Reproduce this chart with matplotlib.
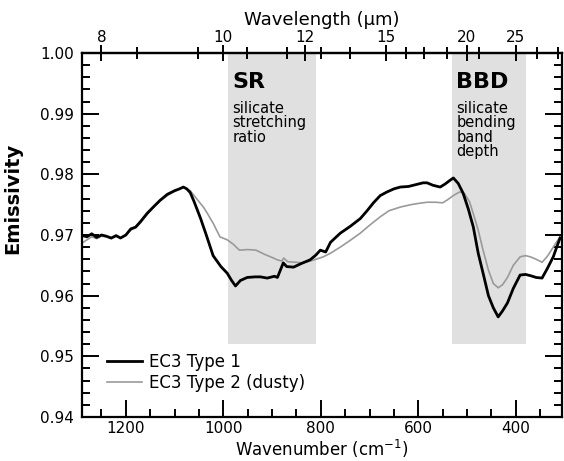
import numpy as np
import matplotlib.pyplot as plt
from matplotlib.ticker import MultipleLocator, FixedLocator

plt.rcParams['font.family'] = ['DejaVu Sans']

# Type 1 spectrum (wavenumber cm-1, emissivity)
wn1 = [1293, 1280, 1270, 1260, 1250, 1240, 1230, 1220, 1211, 1200, 1190, 1180,
       1170, 1156, 1145, 1130, 1115, 1100, 1090, 1082, 1075, 1068, 1060, 1047,
       1035, 1021, 1005, 992, 983, 975, 965, 951, 935, 924, 910, 895, 889, 880,
       877, 870, 856, 840, 822, 810, 801, 790, 780, 760, 740, 719, 705, 692,
       678, 664, 650, 637, 620, 605, 590, 582, 570, 555, 545, 535, 528, 518,
       508, 497, 487, 477, 467, 456, 446, 436, 427, 417, 405, 391, 380, 370,
       358, 346, 335, 323, 315, 309]
em1 = [0.9700, 0.9697, 0.9702, 0.9696, 0.9700, 0.9698, 0.9695, 0.9699, 0.9695,
       0.9700, 0.9710, 0.9713, 0.9722, 0.9736, 0.9745, 0.9757, 0.9767, 0.9773,
       0.9776, 0.9779, 0.9776, 0.9770, 0.9755, 0.9728, 0.9700, 0.9666, 0.9648,
       0.9637, 0.9625, 0.9616, 0.9625, 0.9630, 0.9631, 0.9631, 0.9629, 0.9632,
       0.9630, 0.9648, 0.9654, 0.9648, 0.9647, 0.9653, 0.9659, 0.9667, 0.9675,
       0.9672, 0.9688, 0.9703, 0.9714, 0.9727, 0.9740, 0.9753, 0.9765, 0.9771,
       0.9776, 0.9779, 0.9780, 0.9783, 0.9786, 0.9786, 0.9782, 0.9779, 0.9784,
       0.9790, 0.9794, 0.9785, 0.9769, 0.9742, 0.9713, 0.9670, 0.9637, 0.9600,
       0.9580, 0.9565, 0.9575, 0.9588, 0.9612, 0.9634, 0.9635, 0.9633, 0.9630,
       0.9629, 0.9645, 0.9664, 0.9682, 0.9695]

# Type 2 (dusty) spectrum
wn2 = [1293, 1280, 1270, 1260, 1250, 1240, 1230, 1220, 1211, 1200, 1190, 1180,
       1170, 1156, 1145, 1130, 1115, 1100, 1090, 1082, 1068, 1055, 1040, 1033,
       1020, 1007, 992, 980, 967, 950, 933, 915, 900, 889, 880, 876, 868, 850,
       838, 822, 810, 795, 780, 760, 740, 719, 700, 678, 660, 637, 615, 600,
       582, 565, 550, 540, 528, 515, 505, 495, 487, 477, 467, 456, 446, 436,
       427, 417, 405, 391, 380, 370, 358, 346, 335, 323, 315, 309]
em2 = [0.9685, 0.9692, 0.9697, 0.9694, 0.9698, 0.9697, 0.9694, 0.9698, 0.9695,
       0.9700, 0.9708, 0.9712, 0.9720, 0.9734, 0.9744, 0.9756, 0.9765, 0.9772,
       0.9776, 0.9779, 0.9773, 0.9760, 0.9745, 0.9736, 0.9718, 0.9697, 0.9692,
       0.9685, 0.9675, 0.9676, 0.9675, 0.9668, 0.9663, 0.9659, 0.9657, 0.9662,
       0.9656, 0.9655, 0.9654, 0.9657, 0.9660, 0.9664, 0.9670, 0.9680, 0.9691,
       0.9703, 0.9716, 0.9730, 0.9740, 0.9746, 0.9750, 0.9752, 0.9754, 0.9754,
       0.9753, 0.9758, 0.9765, 0.9771, 0.9768, 0.9755, 0.9735, 0.9708, 0.9675,
       0.9642, 0.9620, 0.9613, 0.9618, 0.9630, 0.9650, 0.9664, 0.9666, 0.9664,
       0.9660, 0.9655, 0.9665, 0.9680, 0.9690, 0.9697]

# shaded index regions (cm-1)
sr_band = (990, 810)
bbd_band = (530, 378)
shade_floor = 0.952

top_ticks = [8, 10, 12, 15, 20, 25]
top_minor = [8.5, 9.5, 10.5, 11.5, 12.5, 13.5, 16, 17, 18.5, 21, 28, 32]


def wn_to_um(x):
    x = np.asarray(x, dtype=float)
    return 1e4 / np.where(x == 0, 1e-9, x)


fig = plt.figure(figsize=(5.64, 4.61), dpi=100)
ax = fig.add_axes([0.1454, 0.0954, 0.8511, 0.7897])

ax.set_xlim(1290, 305)
ax.set_ylim(0.94, 1.00)

frac = (shade_floor - 0.94) / 0.06
for lo, hi in (sr_band, bbd_band):
    ax.axvspan(lo, hi, ymin=frac, ymax=1, color='#e0e0e0', lw=0, zorder=0)

ax.plot(wn2, em2, color='#9a9a9a', lw=1.2, label='EC3 Type 2 (dusty)', zorder=2)
ax.plot(wn1, em1, color='black', lw=2.0, label='EC3 Type 1', zorder=3)

ax.text(981, 0.9968, 'SR', fontsize=16, fontweight='bold', va='top')
ax.text(981, 0.9921, 'silicate\nstretching\nratio', fontsize=10.5, va='top',
        linespacing=0.95)
ax.text(522, 0.9968, 'BBD', fontsize=16, fontweight='bold', va='top')
ax.text(522, 0.9921, 'silicate\nbending\nband\ndepth', fontsize=10.5, va='top',
        linespacing=0.95)

# axes cosmetics
for s in ax.spines.values():
    s.set_linewidth(1.6)
ax.xaxis.set_major_locator(MultipleLocator(200))
ax.xaxis.set_minor_locator(MultipleLocator(50))
ax.yaxis.set_major_locator(MultipleLocator(0.01))
ax.yaxis.set_minor_locator(MultipleLocator(0.002))
ax.tick_params(which='both', direction='in', left=True, right=True, top=False,
               labelsize=11, width=1.4)
ax.tick_params(which='major', length=12)
ax.tick_params(axis='x', which='major', pad=3)
ax.tick_params(axis='y', which='major', pad=6)
ax.tick_params(which='minor', length=6)
ax.set_yticklabels([f'{v:.2f}' for v in ax.get_yticks()])
ax.set_xlabel('Wavenumber (cm$^{-1}$)', fontsize=12)
ax.xaxis.set_label_coords(0.5, -0.058)
ax.set_ylabel('Emissivity', fontsize=14, fontweight='bold')
ax.yaxis.set_label_coords(-0.125, 0.60)

top = ax.secondary_xaxis('top', functions=(wn_to_um, wn_to_um))
top.xaxis.set_major_locator(FixedLocator(top_ticks))
top.xaxis.set_minor_locator(FixedLocator(top_minor))
top.set_xticklabels([str(t) for t in top_ticks])
top.tick_params(which='both', direction='inout', labelsize=11, width=1.4)
top.tick_params(which='major', length=12, pad=0)
top.tick_params(which='minor', length=8)
top.spines['top'].set_linewidth(1.6)
top.set_xlabel('Wavelength (\u00b5m)', fontsize=13, labelpad=3)

handles, labels = ax.get_legend_handles_labels()
ax.legend(handles[::-1], labels[::-1], loc='lower left',
          bbox_to_anchor=(0.02, 0.027), frameon=False, fontsize=12,
          handlelength=2.1, handletextpad=0.45, labelspacing=0.2)

fig.savefig('out.png', dpi=100)
